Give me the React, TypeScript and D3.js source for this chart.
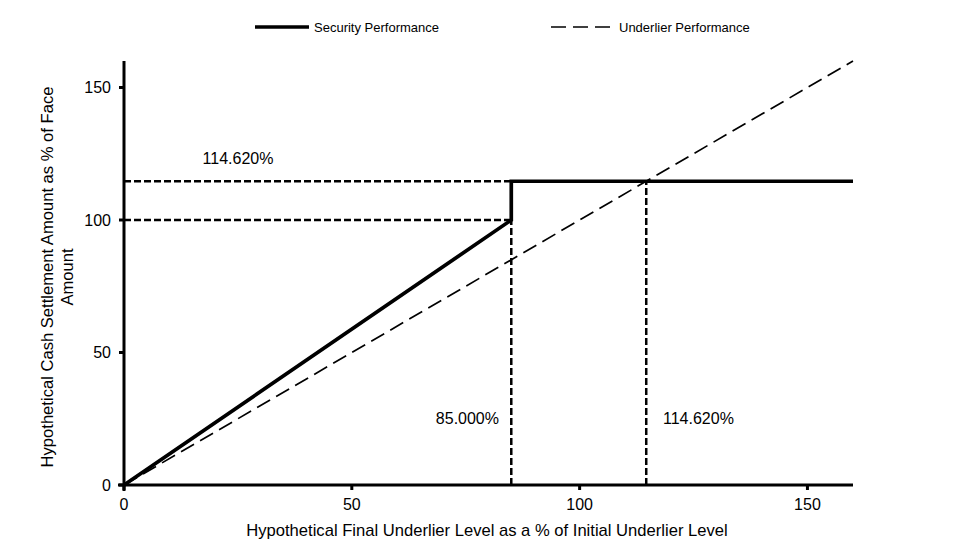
import React from "react";
import * as d3 from "d3";

const xTicks = [0, 50, 100, 150];
const yTicks = [0, 50, 100, 150];
const securityX = [0, 85, 85, 160];
const securityY = [0, 100, 114.62, 114.62];
const underlierX = [0, 160];
const underlierY = [0, 160];
const barrier = 85;
const capLevel = 114.62;
const cashLevel = 100;
const labels = ["114.620%", "85.000%", "114.620%"];

export default function App() {
  const W = 961, H = 555;
  const x = d3.scaleLinear().domain([0, 160]).range([124, 853]);
  const y = d3.scaleLinear().domain([0, 160]).range([485, 61]);
  const line = d3.line<[number, number]>().x(d => x(d[0])).y(d => y(d[1]));
  const sec = securityX.map((v, i) => [v, securityY[i]] as [number, number]);
  const und = underlierX.map((v, i) => [v, underlierY[i]] as [number, number]);
  const font = "'Liberation Sans', Arial, sans-serif";
  const refDash = "7 3";
  return (
    <svg width={W} height={H} style={{ position: "absolute", left: 0, top: 0, background: "#fff" }} fontFamily={font}>
      {/* legend */}
      <line x1={255} x2={309} y1={27} y2={27} stroke="#000" strokeWidth={3.5} />
      <text x={314} y={31.5} fontSize={13}>Security Performance</text>
      <line x1={551} x2={613} y1={27} y2={27} stroke="#000" strokeWidth={1.7} strokeDasharray="15 7" />
      <text x={619} y={31.5} fontSize={13}>Underlier Performance</text>

      {/* reference dashed lines */}
      <g stroke="#000" strokeWidth={2.5} strokeDasharray={refDash} fill="none">
        <path d={line([[0, capLevel], [barrier, capLevel]])!} />
        <path d={line([[0, cashLevel], [barrier, cashLevel]])!} />
        <path d={line([[barrier, 0], [barrier, cashLevel]])!} />
        <path d={line([[capLevel, 0], [capLevel, capLevel]])!} />
      </g>

      {/* underlier */}
      <path d={line(und)!} stroke="#000" strokeWidth={1.7} strokeDasharray="15 7" fill="none" />
      {/* security */}
      <path d={line(sec)!} stroke="#000" strokeWidth={3.7} fill="none" />

      {/* axes */}
      <line x1={x(0)} x2={x(0)} y1={y(0) + 6} y2={y(160)} stroke="#000" strokeWidth={3} />
      <line x1={x(0) - 6} x2={x(160)} y1={y(0)} y2={y(0)} stroke="#000" strokeWidth={3} />
      {yTicks.map(t => (
        <g key={"y" + t}>
          <line x1={x(0) - 5} x2={x(0)} y1={y(t)} y2={y(t)} stroke="#000" strokeWidth={3} />
          <text x={x(0) - 13} y={y(t)} dy="0.35em" textAnchor="end" fontSize={16}>{t}</text>
        </g>
      ))}
      {xTicks.map(t => (
        <g key={"x" + t}>
          <line x1={x(t)} x2={x(t)} y1={y(0)} y2={y(0) + 5} stroke="#000" strokeWidth={3} />
          <text x={x(t)} y={y(0) + 25} textAnchor="middle" fontSize={16}>{t}</text>
        </g>
      ))}

      {/* labels */}
      <text x={238} y={164} textAnchor="middle" fontSize={16}>{labels[0]}</text>
      <text x={499} y={424} textAnchor="end" fontSize={16}>{labels[1]}</text>
      <text x={663} y={424} textAnchor="start" fontSize={16}>{labels[2]}</text>

      {/* axis titles */}
      <text x={487} y={536} textAnchor="middle" fontSize={16.6}>Hypothetical Final Underlier Level as a % of Initial Underlier Level</text>
      <text transform="translate(53,277) rotate(-90)" textAnchor="middle" fontSize={16.6}>
        <tspan x={0} dy={0}>Hypothetical Cash Settlement Amount as % of Face</tspan>
        <tspan x={0} dy={19.5}>Amount</tspan>
      </text>
    </svg>
  );
}
